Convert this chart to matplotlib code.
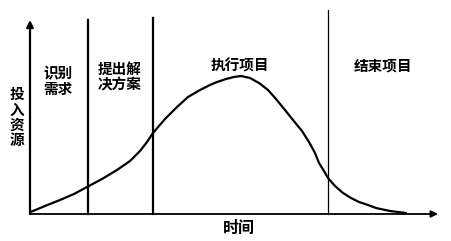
import numpy as np
import matplotlib.pyplot as plt

plt.rcParams['font.family'] = ['Noto Sans CJK SC', 'DejaVu Sans']

# curve of resources over time
time = [0, 3, 15, 30, 44, 57, 72, 87, 100, 110, 117, 123, 135, 147, 158, 170,
        180, 187, 196, 204, 211, 220, 229, 238, 246, 255, 263, 272, 279, 285,
        289, 294, 298, 305, 313, 321, 329, 338, 346, 360, 376]
resource = [2, 3, 8, 14, 20, 27, 35, 44, 53, 63, 72, 81, 95, 107, 117, 124,
            129, 132, 135, 137, 138, 136, 131, 124, 115, 104, 94, 83, 72, 61,
            51, 43, 36, 28, 21, 16, 12, 9, 6, 3, 1]

# phase boundaries
phase_x = [58, 123, 298]
phase_top = [194, 196, 204]
phase_lw = [1.6, 1.6, 0.9]

phase_labels = ["识别\n需求", "提出解\n决方案", "执行项目", "结束项目"]
label_x = [28, 90, 210, 353]
label_y = [133, 137, 148, 148]

fig = plt.figure(figsize=(4.52, 2.41), dpi=100)
ax = fig.add_axes([0, 0, 1, 1])
ax.set_xlim(-30, 422)
ax.set_ylim(-27, 214)
ax.axis('off')

ax.plot(time, resource, color='black', lw=1.6, solid_capstyle='round',
        solid_joinstyle='round')

for x, top, lw in zip(phase_x, phase_top, phase_lw):
    ax.plot([x, x], [0, top], color='black', lw=lw)

# axes with arrows
ax.annotate('', xy=(0, 194), xytext=(0, 0),
            arrowprops=dict(arrowstyle='-|>', color='black', lw=1.6,
                            mutation_scale=10, shrinkA=0, shrinkB=0))
ax.annotate('', xy=(408, 0), xytext=(0, 0),
            arrowprops=dict(arrowstyle='-|>', color='black', lw=1.3,
                            mutation_scale=10, shrinkA=0, shrinkB=0))

for lab, x, y in zip(phase_labels, label_x, label_y):
    ax.text(x, y, lab, ha='center', va='center', fontsize=10.5,
            fontweight='bold', linespacing=0.95)

ax.text(-13, 97, "投\n入\n资\n源", ha='center', va='center', fontsize=10.5,
        fontweight='bold', linespacing=0.95)
ax.text(209, -14, "时间", ha='center', va='center', fontsize=11.5,
        fontweight='bold')

plt.savefig("out.png", dpi=100)
